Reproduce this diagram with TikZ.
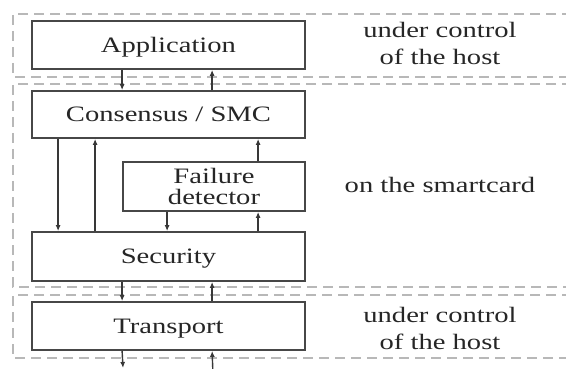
\documentclass[tikz,border=0pt]{standalone}
\usepackage{fontspec}
\setmainfont{Liberation Serif}[FakeStretch=1.3]
\usetikzlibrary{arrows.meta}
\begin{document}
\begin{tikzpicture}[x=1pt,y=-1pt,
  zone/.style={draw=black!28,line width=1.5pt,dash pattern=on 10pt off 6pt},
  layer/.style={draw=black!72,line width=1.8pt,fill=white,minimum height=48pt,
    inner sep=0pt,font=\fontsize{22}{27}\selectfont,text=black!85,
    text height=14.6pt,text depth=0pt},
  twoline/.style={draw=black!72,line width=1.8pt,fill=white,minimum height=49pt,
    inner sep=0pt,align=center,font=\fontsize{22}{21}\selectfont,text=black!85},
  note/.style={align=center,inner sep=0pt,font=\fontsize{22}{27}\selectfont,text=black!85},
  arr/.style={draw=black!78,line width=1.4pt,-{Latex[length=6pt,width=5pt]}}]
\useasboundingbox (0,0) rectangle (566,369);

% host / smartcard zones
\draw[zone] (620,14) -- (13,14) -- (13,77) -- (620,77);
\draw[zone] (620,84) -- (13,84) -- (13,287) -- (620,287);
\draw[zone] (620,295) -- (13,295) -- (13,358) -- (620,358);

% protocol layers
\node[layer,minimum width=273pt] (app) at (168.5,45) {Application};
\node[layer,minimum width=273pt,minimum height=47pt] (cons) at (168.5,114.5) {Consensus / SMC};
\node[twoline,minimum width=182pt] (fd) at (214,186.5) {Failure\\detector};
\node[layer,minimum width=273pt,minimum height=49pt] (sec) at (168.5,256.5) {Security};
\node[layer,minimum width=273pt] (tr) at (168.5,326) {Transport};

% zone labels
\node[note] (host1) at (440,43) {under control\\of the host};
\node[note,anchor=base] (card) at (440,193) {on the smartcard};
\node[note] (host2) at (440,328) {under control\\of the host};

% loose ends below the transport layer
\coordinate (outdown) at (123,368);
\coordinate (outup) at (213,375);

% message flow between the layers
\draw[arr] ([xshift=91pt]app.south west) -- ([xshift=91pt]cons.north west);
\draw[arr] ([xshift=181pt]cons.north west) -- ([xshift=181pt]app.south west);
\draw[arr] ([xshift=27pt]cons.south west) -- ([xshift=27pt]sec.north west);
\draw[arr] ([xshift=64pt]sec.north west) -- ([xshift=64pt]cons.south west);
\draw[arr] ([xshift=136pt]fd.north west) -- ([xshift=227pt]cons.south west);
\draw[arr] ([xshift=45pt]fd.south west) -- ([xshift=136pt]sec.north west);
\draw[arr] ([xshift=227pt]sec.north west) -- ([xshift=136pt]fd.south west);
\draw[arr] ([xshift=91pt]sec.south west) -- ([xshift=91pt]tr.north west);
\draw[arr] ([xshift=181pt]tr.north west) -- ([xshift=181pt]sec.south west);
\draw[arr] ([xshift=91pt]tr.south west) -- (outdown);
\draw[arr] (outup) -- ([xshift=181pt]tr.south west);
\end{tikzpicture}
\end{document}
